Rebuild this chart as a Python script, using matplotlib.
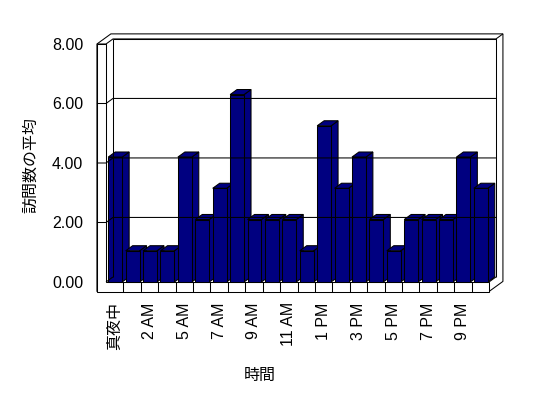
import matplotlib
matplotlib.use("Agg")
import matplotlib.pyplot as plt
from matplotlib.patches import Polygon, Rectangle

plt.rcParams['font.family'] = ['Liberation Sans', 'Noto Sans CJK JP']

# data
hours = ["真夜中", "1 AM", "2 AM", "4 AM", "5 AM", "6 AM", "7 AM", "8 AM", "9 AM",
         "10 AM", "11 AM", "12 PM", "1 PM", "2 PM", "3 PM", "4 PM", "5 PM", "6 PM",
         "7 PM", "8 PM", "9 PM", "10 PM"]
visits = [4.2, 1.05, 1.05, 1.05, 4.2, 2.1, 3.15, 6.3, 2.1, 2.1, 2.1, 1.05,
          5.25, 3.15, 4.2, 2.1, 1.05, 2.1, 2.1, 2.1, 4.2, 3.15]
yticks = [0, 2, 4, 6, 8]
ylabel = "訪問数の平均"
xlabel = "時間"

n = len(hours)
ymax = 8
DX, DY = 0.4, 0.17      # depth of the 3d box, in data units
WALL = 0.52             # left wall thickness
FLOOR = 0.32            # floor thickness
BAR_OFF, BAR_W = 0.13, 0.80
navy = "#000080"
lw = 0.75

fig = plt.figure(figsize=(5.48, 3.98), dpi=100)
ax = fig.add_axes([106 / 548, 1 - 282 / 398, 383 / 548, 238 / 398])
ax.set_xlim(0, n)
ax.set_ylim(0, ymax)
for s in ax.spines.values():
    s.set_visible(False)
ax.patch.set_visible(False)


def line(xs, ys):
    ax.plot(xs, ys, color="black", lw=lw, clip_on=False, solid_capstyle="butt")


# back wall / outer box
box = Polygon([(-WALL, ymax), (-WALL + 2 * DX, ymax + 2 * DY), (n + 2 * DX, ymax + 2 * DY),
               (n + 2 * DX, -FLOOR + 2 * DY), (n, -FLOOR), (-WALL, -FLOOR)],
              closed=True, facecolor="white", edgecolor="black", lw=lw, clip_on=False)
ax.add_patch(box)
line([DX, n + DX, n + DX], [ymax + DY, ymax + DY, DY])
line([n + DX, n + 2 * DX], [ymax + DY, ymax + 2 * DY])
line([n, n + DX], [0, DY])
line([DX, DX], [DY, ymax + DY])

# grid lines on left wall and back wall
for v in yticks[1:]:
    line([-WALL, 0, DX, n + DX], [v, v, v + DY, v + DY])
line([0, DX], [0, DY])

# front faces of left wall and floor
front = Polygon([(-WALL, ymax), (0, ymax), (0, 0), (n, 0), (n, -FLOOR), (-WALL, -FLOOR)],
                closed=True, facecolor="white", edgecolor="black", lw=lw, clip_on=False)
ax.add_patch(front)
for k in range(1, n):
    line([k, k], [-FLOOR, 0])

# bars
for i, v in enumerate(visits):
    x0 = i + BAR_OFF
    x1 = x0 + BAR_W
    side = Polygon([(x1, 0), (x1, v), (x1 + DX, v + DY), (x1 + DX, DY)], closed=True,
                   facecolor=navy, edgecolor="black", lw=lw, clip_on=False)
    top = Polygon([(x0, v), (x1, v), (x1 + DX, v + DY), (x0 + DX, v + DY)], closed=True,
                  facecolor=navy, edgecolor="black", lw=lw, clip_on=False)
    face = Rectangle((x0, 0), BAR_W, v, facecolor=navy, edgecolor="black", lw=lw,
                     clip_on=False)
    ax.add_patch(side)
    ax.add_patch(top)
    ax.add_patch(face)

# ticks and labels
ax.set_yticks(yticks)
ax.set_yticklabels([f"{v:.2f}" for v in yticks], fontsize=11.5)
ax.tick_params(axis="y", length=0, pad=16.5)
ax.set_xticks([k + 0.5 for k in range(0, n, 2)])
ax.set_xticklabels(hours[::2], rotation=90, fontsize=11.5)
ax.tick_params(axis="x", length=0, pad=14.5)

ax.set_ylabel(ylabel, fontsize=11.5)
ax.yaxis.set_label_coords(-0.178, 0.49)
ax.set_xlabel(xlabel, fontsize=11.5)
ax.xaxis.set_label_coords(0.402, -0.36)

fig.savefig("out.png", dpi=100)
